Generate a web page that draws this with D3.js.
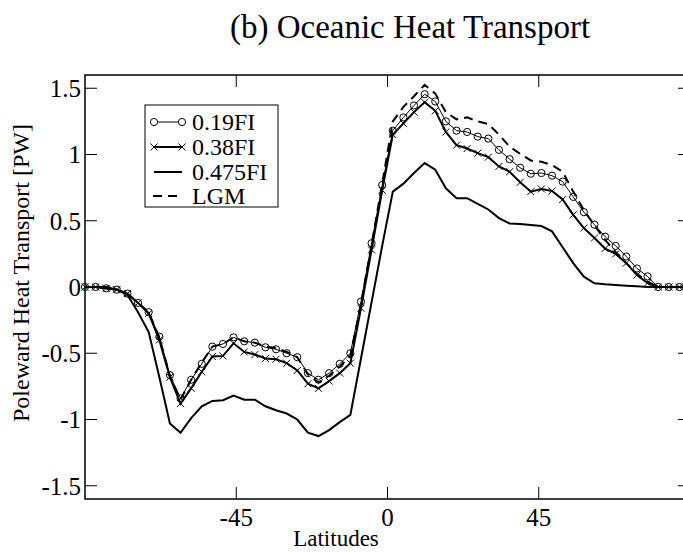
<!DOCTYPE html>
<html>
<head>
<meta charset="utf-8">
<script src="https://cdn.jsdelivr.net/npm/d3@7"></script>
<style>
  body { margin: 0; background: #fff; }
  svg text { font-family: 'Liberation Serif', 'Times New Roman', Times, serif; fill: #000; }
</style>
</head>
<body>
<div id="chart"></div>
<script>
// latitude grid (58 points, pole to pole)
const lats = [-90, -86.84, -83.68, -80.53, -77.37, -74.21, -71.05, -67.89, -64.74, -61.58,
  -58.42, -55.26, -52.11, -48.95, -45.79, -42.63, -39.47, -36.32, -33.16, -30.00,
  -26.84, -23.68, -20.53, -17.37, -14.21, -11.05, -7.89, -4.74, -1.58, 1.58,
  4.74, 7.89, 11.05, 14.21, 17.37, 20.53, 23.68, 26.84, 30.00, 33.16,
  36.32, 39.47, 42.63, 45.79, 48.95, 52.11, 55.26, 58.42, 61.58, 64.74,
  67.89, 71.05, 74.21, 77.37, 80.53, 83.68, 86.84, 90];

const fi19 = [0, 0, -0.01, -0.02, -0.05, -0.12, -0.19, -0.375, -0.665, -0.84,
  -0.70, -0.58, -0.45, -0.43, -0.38, -0.41, -0.42, -0.455, -0.47, -0.50,
  -0.53, -0.65, -0.70, -0.65, -0.58, -0.50, -0.11, 0.33, 0.77, 1.18,
  1.28, 1.37, 1.455, 1.40, 1.25, 1.18, 1.17, 1.135, 1.12, 1.035,
  0.965, 0.90, 0.855, 0.86, 0.84, 0.795, 0.68, 0.565, 0.47, 0.38,
  0.31, 0.23, 0.14, 0.08, 0, 0, 0, 0];

const fi38 = [0, 0, -0.01, -0.02, -0.05, -0.12, -0.2, -0.40, -0.68, -0.88,
  -0.765, -0.64, -0.525, -0.52, -0.425, -0.49, -0.51, -0.54, -0.545, -0.575,
  -0.63, -0.73, -0.765, -0.71, -0.65, -0.575, -0.16, 0.28, 0.73, 1.15,
  1.235, 1.32, 1.395, 1.33, 1.17, 1.07, 1.045, 1.01, 0.98, 0.91,
  0.87, 0.79, 0.72, 0.74, 0.725, 0.66, 0.545, 0.445, 0.37, 0.29,
  0.25, 0.18, 0.09, 0.03, 0, 0, 0, 0];

const fi475 = [0, 0, 0, -0.02, -0.06, -0.19, -0.34, -0.68, -1.03, -1.10,
  -0.99, -0.90, -0.86, -0.855, -0.82, -0.85, -0.85, -0.90, -0.93, -0.955,
  -1.0, -1.10, -1.125, -1.08, -1.02, -0.965, -0.54, -0.115, 0.31, 0.72,
  0.78, 0.86, 0.935, 0.885, 0.745, 0.67, 0.67, 0.627, 0.585, 0.52,
  0.48, 0.475, 0.468, 0.46, 0.42, 0.30, 0.18, 0.078, 0.028, 0.02,
  0.015, 0.01, 0.005, 0, 0, 0, 0, 0];

const lgm = [0, 0, -0.01, -0.02, -0.05, -0.12, -0.19, -0.38, -0.67, -0.85,
  -0.70, -0.57, -0.45, -0.43, -0.38, -0.41, -0.42, -0.45, -0.46, -0.49,
  -0.53, -0.66, -0.72, -0.67, -0.60, -0.52, -0.13, 0.32, 0.78, 1.25,
  1.36, 1.44, 1.525, 1.46, 1.32, 1.265, 1.28, 1.25, 1.23, 1.15,
  1.06, 1.005, 0.955, 0.945, 0.92, 0.87, 0.72, 0.58, 0.465, 0.355,
  0.265, 0.18, 0.10, 0.04, 0, 0, 0, 0];

const xTicks = [-45, 0, 45];
const yTicks = [-1.5, -1, -0.5, 0, 0.5, 1, 1.5];
const legendLabels = ['0.19FI', '0.38FI', '0.475FI', 'LGM'];

const width = 683;
const height = 552;
const margin = { left: 85, top: 75, right: 690, bottom: 499 };
const serif = "'Liberation Serif', 'Times New Roman', Times, serif";

const svg = d3.select('#chart')
  .append('svg')
  .attr('width', width)
  .attr('height', height)
  .attr('font-family', serif);

const x = d3.scaleLinear().domain([-90, 90]).range([margin.left, margin.right]);
const y = d3.scaleLinear().domain([-1.6, 1.6]).range([margin.bottom, margin.top]);

// title
svg.append('text')
  .attr('x', 410)
  .attr('y', 38)
  .attr('text-anchor', 'middle')
  .style('font-size', '33px')
  .text('(b) Oceanic Heat Transport');

// frame
svg.append('rect')
  .attr('x', margin.left)
  .attr('y', margin.top)
  .attr('width', margin.right - margin.left)
  .attr('height', margin.bottom - margin.top)
  .attr('fill', 'none')
  .attr('stroke', '#000')
  .attr('stroke-width', 1.5);

const tickLen = 12;

// x ticks, bottom and top, pointing inwards
const xt = svg.append('g');
xTicks.forEach(t => {
  xt.append('line')
    .attr('x1', x(t)).attr('x2', x(t))
    .attr('y1', margin.bottom).attr('y2', margin.bottom - tickLen)
    .attr('stroke', '#000').attr('stroke-width', 1);
  xt.append('line')
    .attr('x1', x(t)).attr('x2', x(t))
    .attr('y1', margin.top).attr('y2', margin.top + tickLen)
    .attr('stroke', '#000').attr('stroke-width', 1);
  xt.append('text')
    .attr('x', x(t))
    .attr('y', margin.bottom + 27)
    .attr('text-anchor', 'middle')
    .style('font-size', '25px')
    .text(t);
});

// y ticks, left and right
const yt = svg.append('g');
yTicks.forEach(t => {
  yt.append('line')
    .attr('x1', margin.left).attr('x2', margin.left + tickLen)
    .attr('y1', y(t)).attr('y2', y(t))
    .attr('stroke', '#000').attr('stroke-width', 1);
  yt.append('line')
    .attr('x1', margin.right).attr('x2', margin.right - tickLen)
    .attr('y1', y(t)).attr('y2', y(t))
    .attr('stroke', '#000').attr('stroke-width', 1);
  yt.append('text')
    .attr('x', margin.left - 4)
    .attr('y', y(t))
    .attr('dy', '0.35em')
    .attr('text-anchor', 'end')
    .style('font-size', '25px')
    .text(t);
});

// axis titles
svg.append('text')
  .attr('transform', `translate(29, 273) rotate(-90)`)
  .attr('text-anchor', 'middle')
  .style('font-size', '24px')
  .text('Poleward Heat Transport [PW]');

svg.append('text')
  .attr('x', 336)
  .attr('y', 546)
  .attr('text-anchor', 'middle')
  .style('font-size', '23px')
  .text('Latitudes');

// curves
const plot = svg.append('g');

const line = d3.line()
  .x(d => x(d[0]))
  .y(d => y(d[1]));

const pairs = vals => lats.map((la, i) => [la, vals[i]]);

plot.append('path')
  .datum(pairs(fi475))
  .attr('d', line)
  .attr('fill', 'none')
  .attr('stroke', '#000')
  .attr('stroke-width', 2);

plot.append('path')
  .datum(pairs(fi38))
  .attr('d', line)
  .attr('fill', 'none')
  .attr('stroke', '#000')
  .attr('stroke-width', 2);

plot.append('g')
  .selectAll('path')
  .data(pairs(fi38))
  .enter()
  .append('path')
  .attr('d', d => {
    const cx = x(d[0]), cy = y(d[1]), s = 3.5;
    return `M${cx - s},${cy - s}L${cx + s},${cy + s}M${cx - s},${cy + s}L${cx + s},${cy - s}`;
  })
  .attr('stroke', '#000')
  .attr('stroke-width', 1);

plot.append('path')
  .datum(pairs(fi19))
  .attr('d', line)
  .attr('fill', 'none')
  .attr('stroke', '#000')
  .attr('stroke-width', 1);

plot.append('g')
  .selectAll('circle')
  .data(pairs(fi19))
  .enter()
  .append('circle')
  .attr('cx', d => x(d[0]))
  .attr('cy', d => y(d[1]))
  .attr('r', 3.6)
  .attr('fill', 'none')
  .attr('stroke', '#000')
  .attr('stroke-width', 1);

plot.append('path')
  .datum(pairs(lgm))
  .attr('d', line)
  .attr('fill', 'none')
  .attr('stroke', '#000')
  .attr('stroke-width', 2)
  .attr('stroke-dasharray', '9,6');

// legend
const legend = svg.append('g');
legend.append('rect')
  .attr('x', 145).attr('y', 105)
  .attr('width', 133).attr('height', 102)
  .attr('fill', '#fff')
  .attr('stroke', '#000')
  .attr('stroke-width', 1);

const rowY = [122, 147, 172, 196];
const lx1 = 154, lx2 = 182;

legendLabels.forEach((lab, i) => {
  const row = legend.append('g');
  const ly = rowY[i];
  const seg = row.append('line')
    .attr('x1', lx1).attr('x2', lx2)
    .attr('y1', ly).attr('y2', ly)
    .attr('stroke', '#000')
    .attr('stroke-width', i === 0 ? 1 : 2);
  if (i === 3) seg.attr('stroke-dasharray', '9,6').attr('x1', lx1 - 1);
  if (i === 0) {
    [lx1, lx2].forEach(cx => row.append('circle')
      .attr('cx', cx).attr('cy', ly).attr('r', 3.6)
      .attr('fill', '#fff').attr('stroke', '#000'));
  }
  if (i === 1) {
    [lx1, lx2].forEach(cx => row.append('path')
      .attr('d', `M${cx - 3.5},${ly - 3.5}L${cx + 3.5},${ly + 3.5}M${cx - 3.5},${ly + 3.5}L${cx + 3.5},${ly - 3.5}`)
      .attr('stroke', '#000'));
  }
  row.append('text')
    .attr('x', 192)
    .attr('y', ly)
    .attr('dy', '0.35em')
    .style('font-size', '24px')
    .text(lab);
});
</script>
</body>
</html>
